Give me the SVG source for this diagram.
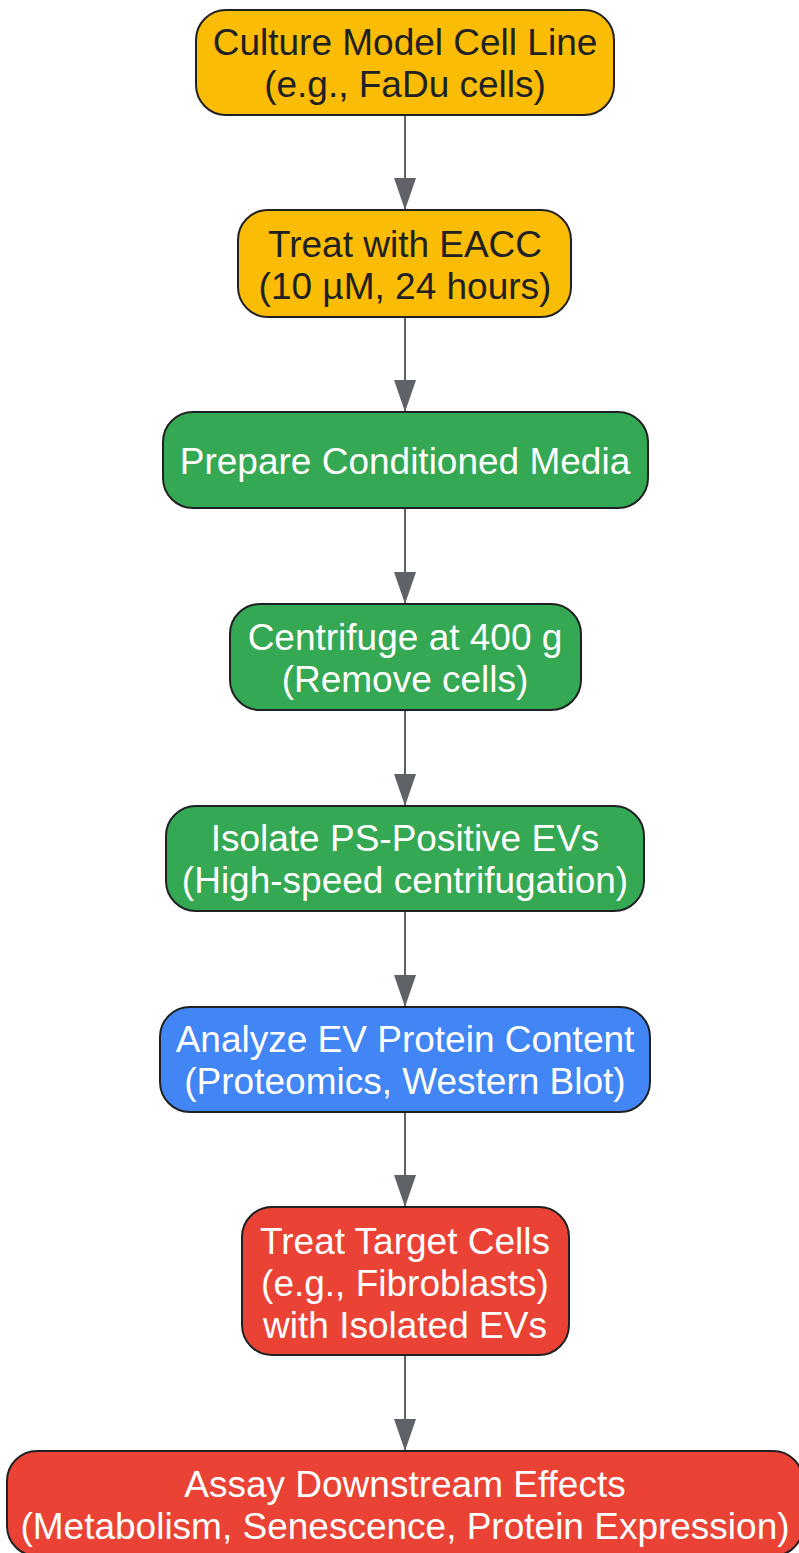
<svg xmlns="http://www.w3.org/2000/svg" width="799" height="1553" viewBox="0 0 799 1553">
  <style>
    .box { stroke: #202124; stroke-width: 2; }
    .yellow { fill: #FBBC05; }
    .green { fill: #34A853; }
    .blue { fill: #4285F4; }
    .red { fill: #EA4335; }
    text { font-family: "Liberation Sans", Arial, sans-serif; font-size: 37px; text-anchor: middle; }
    .dark { fill: #202124; }
    .light { fill: #FFFFFF; }
    .edge { stroke: #5F6368; stroke-width: 2; fill: none; }
  </style>
  <defs>
    <marker id="arrow" markerUnits="userSpaceOnUse" markerWidth="32" markerHeight="22" refX="32" refY="11" orient="auto">
      <path d="M0,0 L32,11 L0,22 Z" fill="#5F6368"/>
    </marker>
  </defs>
  <rect width="799" height="1553" fill="#FFFFFF"/>
  <g id="connectors">
    <line class="edge" x1="405" y1="115" x2="405" y2="210" marker-end="url(#arrow)"/>
    <line class="edge" x1="405" y1="317" x2="405" y2="412" marker-end="url(#arrow)"/>
    <line class="edge" x1="405" y1="508" x2="405" y2="604" marker-end="url(#arrow)"/>
    <line class="edge" x1="405" y1="710" x2="405" y2="806" marker-end="url(#arrow)"/>
    <line class="edge" x1="405" y1="911" x2="405" y2="1007" marker-end="url(#arrow)"/>
    <line class="edge" x1="405" y1="1112" x2="405" y2="1207" marker-end="url(#arrow)"/>
    <line class="edge" x1="405" y1="1355" x2="405" y2="1451" marker-end="url(#arrow)"/>
  </g>
  <g id="node-culture">
    <rect class="box yellow" x="196" y="10" width="418" height="105" rx="30" ry="30"/>
    <text class="dark" x="405" y="55">Culture Model Cell Line</text>
    <text class="dark" x="405" y="97">(e.g., FaDu cells)</text>
  </g>
  <g id="node-treat">
    <rect class="box yellow" x="238" y="210" width="333" height="107" rx="30" ry="30"/>
    <text class="dark" x="405" y="257">Treat with EACC</text>
    <text class="dark" x="405" y="299">(10 µM, 24 hours)</text>
  </g>
  <g id="node-prepare">
    <rect class="box green" x="163" y="412" width="485" height="96" rx="30" ry="30"/>
    <text class="light" x="405" y="474">Prepare Conditioned Media</text>
  </g>
  <g id="node-centrifuge">
    <rect class="box green" x="230" y="604" width="351" height="106" rx="30" ry="30"/>
    <text class="light" x="405" y="650">Centrifuge at 400 g</text>
    <text class="light" x="405" y="692">(Remove cells)</text>
  </g>
  <g id="node-isolate">
    <rect class="box green" x="166" y="806" width="478" height="105" rx="30" ry="30"/>
    <text class="light" x="405" y="851">Isolate PS-Positive EVs</text>
    <text class="light" x="405" y="893">(High-speed centrifugation)</text>
  </g>
  <g id="node-analyze">
    <rect class="box blue" x="160" y="1007" width="490" height="105" rx="30" ry="30"/>
    <text class="light" x="405" y="1052">Analyze EV Protein Content</text>
    <text class="light" x="405" y="1094">(Proteomics, Western Blot)</text>
  </g>
  <g id="node-target">
    <rect class="box red" x="242" y="1207" width="327" height="148" rx="30" ry="30"/>
    <text class="light" x="405" y="1254">Treat Target Cells</text>
    <text class="light" x="405" y="1296">(e.g., Fibroblasts)</text>
    <text class="light" x="405" y="1338">with Isolated EVs</text>
  </g>
  <g id="node-assay">
    <rect class="box red" x="7" y="1451" width="796" height="105" rx="30" ry="30"/>
    <text class="light" x="405" y="1497">Assay Downstream Effects</text>
    <text class="light" x="405" y="1539">(Metabolism, Senescence, Protein Expression)</text>
  </g>
</svg>
